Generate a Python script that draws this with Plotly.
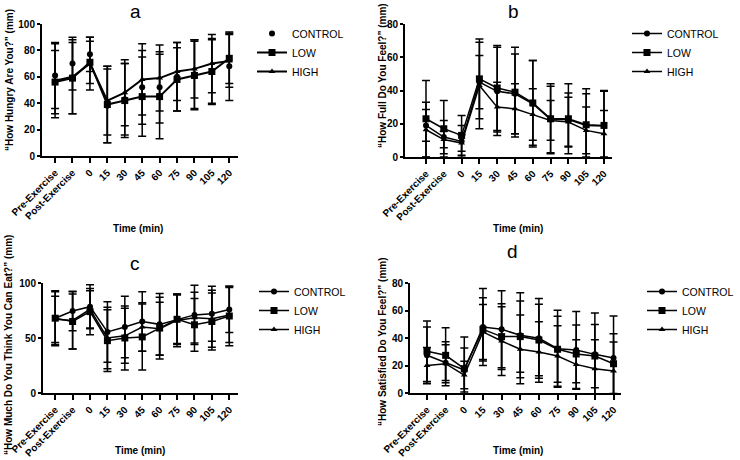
import plotly.graph_objects as go

# time points on the x axis
cats = ["Pre-Exercise", "Post-Exercise", "0", "15", "30", "45", "60", "75", "90", "105", "120"]
groups = ["CONTROL", "LOW", "HIGH"]

# a: hunger
a_control = [61, 70, 77, 38, 43, 52, 52, 60, 62, 64, 68]
a_control_sd = [25, 20, 13, 28, 27, 28, 27, 26, 26, 24, 26]
a_low = [56, 59, 71, 39, 42, 45, 45, 58, 61, 64, 74]
a_low_sd = [24, 27, 16, 29, 28, 30, 32, 24, 26, 25, 19]
a_high = [57, 60, 70, 42, 48, 58, 59, 64, 66, 70, 72]
a_high_sd = [28, 28, 20, 26, 25, 27, 25, 22, 22, 22, 20]

# b: fullness
b_control = [19, 12, 9.4, 45, 39.5, 38, 32, 22.5, 22.5, 19, 18.6]
b_control_sd = [9.5, 10, 9.6, 16, 26.5, 24, 26, 20, 16, 19, 21]
b_low = [23, 17, 13, 47, 41.5, 39, 32.5, 23, 23, 19.4, 19]
b_low_sd = [23, 17, 12, 24, 25.5, 27, 25.5, 21, 21, 21.6, 21]
b_high = [16.4, 10.5, 8.4, 43, 30, 29, 25.5, 22, 21, 16, 14]
b_high_sd = [16.6, 5, 5, 26, 15, 15, 15.5, 12, 15, 14, 14]

# c: prospective consumption
c_control = [68, 74.5, 78.5, 55.5, 60, 65, 62.4, 67, 71, 72, 76]
c_control_sd = [25, 18, 20, 27.5, 28, 27, 28, 22, 27, 25, 21]
c_low = [68, 65, 74, 47.6, 50, 51, 59, 67, 62, 65, 70]
c_low_sd = [24, 25, 21, 28, 29, 30, 28, 23, 24, 26, 27]
c_high = [67, 66, 76, 50, 52, 60, 58.5, 66, 68.5, 67.5, 71]
c_high_sd = [21, 26, 17, 28, 25, 22, 24, 24, 23, 26, 25]

# d: satisfaction
d_control = [27.4, 22, 16.7, 48, 46.3, 42, 39.8, 32.2, 31.3, 28.1, 25.5]
d_control_sd = [20.6, 13, 16, 28, 28, 31, 29, 28, 28, 30, 30.5]
d_low = [30.3, 27.4, 17.7, 46.3, 41, 41, 38.5, 31.8, 28.4, 26.9, 21.3]
d_low_sd = [22, 20, 23, 23, 24, 26, 26, 24, 21, 23, 21.7]
d_high = [20, 21.3, 13, 44.4, 37.8, 31.8, 29.8, 26.9, 20.8, 17.7, 16]
d_high_sd = [13, 16, 10, 20, 25, 25, 22, 22, 18, 21, 21]

W, H = 740, 460
FONT = "Arial, Liberation Sans, sans-serif"
symbols = {"CONTROL": "circle", "LOW": "square", "HIGH": "triangle-up"}
msize = {"CONTROL": 6, "LOW": 7, "HIGH": 6}

panels = [
    dict(k="", data=[(a_control, a_control_sd), (a_low, a_low_sd), (a_high, a_high_sd)],
         ymax=100, dtick=20, xpx=(42, 238), ypx=(24, 156), xr=(-0.75, 10.5),
         ytitle="\u201cHow Hungry Are You?\u201d (mm)", dots_only=True, lw=2),
    dict(k="2", data=[(b_control, b_control_sd), (b_low, b_low_sd), (b_high, b_high_sd)],
         ymax=80, dtick=20, xpx=(405, 612), ypx=(24, 157), xr=(-1.18, 10.45),
         ytitle="\u201cHow Full Do You Feel?\u201d (mm)", dots_only=False, lw=1.5),
    dict(k="3", data=[(c_control, c_control_sd), (c_low, c_low_sd), (c_high, c_high_sd)],
         ymax=100, dtick=50, xpx=(43, 238), ypx=(283, 393), xr=(-0.7, 10.5),
         ytitle="\u201cHow Much Do You Think You Can Eat?\u201d (mm)", dots_only=False, lw=1.5),
    dict(k="4", data=[(d_control, d_control_sd), (d_low, d_low_sd), (d_high, d_high_sd)],
         ymax=80, dtick=20, xpx=(410, 621), ypx=(283, 393), xr=(-0.91, 10.4),
         ytitle="\u201cHow Satisfied Do You Feel?\u201d (mm)", dots_only=False, lw=1.5),
]

fig = go.Figure()
layout = {}
for p in panels:
    k = p["k"]
    leg = "legend" + k
    for g, (vals, sd) in zip(groups, p["data"]):
        mode = "markers" if (p["dots_only"] and g == "CONTROL") else "lines+markers"
        fig.add_trace(go.Scatter(
            x=cats, y=vals, name=g, mode=mode,
            xaxis="x" + k, yaxis="y" + k, legend=leg,
            line=dict(color="black", width=p["lw"]),
            marker=dict(symbol=symbols[g], size=msize[g], color="black"),
            error_y=dict(type="data", array=sd, visible=True, color="black",
                         thickness=1.5, width=4),
        ))
    x0, x1 = p["xpx"]
    yt, yb = p["ypx"]
    layout["xaxis" + k] = dict(
        domain=[x0 / W, x1 / W], anchor="y" + k, type="category",
        categoryorder="array", categoryarray=cats, range=list(p["xr"]),
        showline=True, linecolor="black", linewidth=2, showgrid=False, zeroline=False,
        automargin=False,
        ticks="outside", ticklen=5, tickwidth=1.5, tickcolor="black", tickangle=-45,
        tickfont=dict(family=FONT, size=10, color="black", weight="bold"),
    )
    layout["yaxis" + k] = dict(
        domain=[1 - yb / H, 1 - yt / H], anchor="x" + k, range=[0, p["ymax"]],
        dtick=p["dtick"], showline=True, linecolor="black", linewidth=2,
        showgrid=False, zeroline=False, automargin=False,
        ticks="outside", ticklen=3, tickwidth=1.5,
        tickcolor="black", tickfont=dict(family=FONT, size=10, color="black", weight="bold"),
    )

leg_style = dict(bgcolor="rgba(0,0,0,0)", font=dict(family=FONT, size=10.5, color="black"),
                 xanchor="left", yanchor="top", tracegroupgap=0, itemwidth=30)
layout["legend"] = dict(leg_style, x=252 / W, y=1 - 19 / H)
layout["legend2"] = dict(leg_style, x=627 / W, y=1 - 19 / H)
layout["legend3"] = dict(leg_style, x=254 / W, y=1 - 277 / H)
layout["legend4"] = dict(leg_style, x=642 / W, y=1 - 277 / H)

ann = []
def note(text, px, py, size, bold=False, angle=0):
    ann.append(dict(text=text, x=px / W, y=1 - py / H, xref="paper", yref="paper",
                    showarrow=False, textangle=angle, xanchor="center", yanchor="middle",
                    font=dict(family=FONT, size=size, color="black",
                              weight="bold" if bold else "normal")))

note("a", 135, 12, 19)
note("b", 513, 12, 19)
note("c", 135, 263, 19)
note("d", 512, 252, 19)
note("Time (min)", 138, 228, 10, bold=True)
note("Time (min)", 518, 228, 10, bold=True)
note("Time (min)", 140, 450, 10, bold=True)
note("Time (min)", 518, 450, 10, bold=True)
note(panels[0]["ytitle"], 9, 80, 10, bold=True, angle=-90)
note(panels[1]["ytitle"], 383, 76, 10, bold=True, angle=-90)
note(panels[2]["ytitle"], 8, 345, 10, bold=True, angle=-90)
note(panels[3]["ytitle"], 382, 341, 10, bold=True, angle=-90)

fig.update_layout(
    template="none",
    width=W, height=H, autosize=False,
    margin=dict(l=0, r=0, t=0, b=0),
    paper_bgcolor="white", plot_bgcolor="white",
    annotations=ann, **layout,
)
# page body has a default 8px margin, drop it so the figure fills the window
fig.write_html("out.html", config={"displayModeBar": False},
               post_script="document.body.style.margin='0px';")
